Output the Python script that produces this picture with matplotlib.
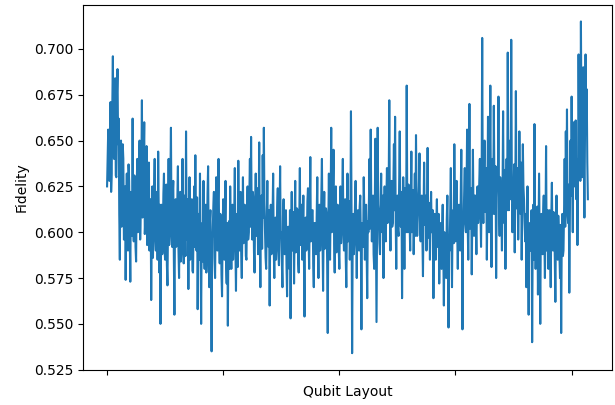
import numpy as np
import matplotlib
matplotlib.use("Agg")
import matplotlib.pyplot as plt

# fidelity per layout (in thousandths)
fidelity_milli = [
    625, 641, 656, 630, 628, 652, 671, 622, 632, 668, 696, 645, 640, 672, 684, 631, 630, 676, 689, 648,
    662, 610, 585, 638, 650, 603, 612, 648, 640, 596, 598, 625, 574, 609, 632, 593, 590, 637, 628, 601,
    573, 622, 615, 598, 662, 603, 595, 631, 628, 592, 584, 624, 640, 600, 605, 634, 650, 596, 612, 630,
    672, 608, 620, 641, 660, 599, 608, 626, 647, 593, 618, 628, 638, 590, 600, 618, 563, 603, 625, 586,
    605, 624, 640, 597, 590, 619, 622, 585, 644, 608, 578, 615, 550, 596, 615, 588, 598, 621, 632, 590,
    585, 612, 626, 582, 571, 608, 640, 593, 603, 627, 657, 601, 592, 620, 628, 586, 555, 604, 618, 592,
    598, 617, 636, 590, 575, 610, 622, 584, 590, 616, 640, 598, 583, 620, 612, 587, 655, 602, 596, 618,
    569, 607, 630, 585, 588, 612, 618, 579, 578, 604, 625, 592, 642, 600, 590, 619, 558, 597, 610, 585,
    632, 595, 550, 603, 605, 584, 628, 593, 580, 612, 615, 578, 596, 621, 636, 590, 570, 606, 612, 583,
    535, 597, 600, 614, 622, 586, 575, 609, 630, 592, 590, 618, 640, 596, 583, 610, 608, 577, 565, 601,
    618, 590, 585, 608, 628, 583, 572, 605, 549, 598, 606, 580, 625, 599, 580, 614, 615, 585, 595, 611,
    635, 592, 568, 605, 610, 581, 639, 602, 590, 617, 622, 588, 575, 603, 630, 594, 598, 615, 612, 587,
    585, 611, 625, 596, 600, 620, 640, 603, 652, 612, 596, 622, 618, 589, 578, 610, 632, 598, 605, 624,
    588, 609, 649, 597, 570, 613, 620, 591, 642, 608, 657, 615, 600, 586, 580, 607, 628, 594, 592, 612,
    560, 603, 615, 588, 590, 609, 632, 592, 575, 604, 608, 585, 596, 614, 624, 590, 582, 606, 636, 597,
    600, 583, 570, 609, 618, 593, 588, 610, 612, 582, 565, 601, 603, 589, 580, 612, 553, 598, 622, 590,
    598, 611, 572, 604, 628, 589, 590, 613, 612, 585, 578, 607, 635, 593, 600, 615, 585, 602, 620, 588,
    554, 606, 608, 590, 592, 617, 624, 598, 580, 609, 641, 595, 598, 612, 612, 583, 570, 605, 605, 592,
    588, 611, 630, 596, 575, 608, 615, 590, 600, 619, 640, 597, 568, 605, 622, 591, 596, 613, 610, 584,
    545, 603, 632, 593, 585, 614, 657, 600, 602, 622, 645, 594, 578, 607, 625, 589, 598, 615, 612, 590,
    580, 607, 625, 594, 605, 618, 640, 599, 590, 612, 618, 586, 570, 604, 632, 595, 600, 617, 585, 603,
    666, 612, 534, 598, 610, 588, 595, 616, 628, 600, 575, 609, 612, 592, 590, 614, 620, 597, 547, 605,
    605, 592, 630, 610, 585, 603, 615, 591, 564, 606, 600, 618, 640, 602, 656, 614, 595, 609, 620, 588,
    580, 611, 651, 600, 551, 607, 657, 615, 610, 594, 588, 613, 632, 601, 600, 620, 575, 605, 625, 598,
    595, 618, 635, 605, 612, 626, 672, 610, 590, 621, 628, 603, 605, 624, 648, 612, 663, 608, 580, 619,
    620, 601, 598, 627, 655, 611, 603, 622, 564, 606, 630, 615, 580, 624, 612, 600, 680, 613, 600, 626,
    625, 605, 590, 618, 644, 600, 605, 623, 588, 610, 632, 598, 653, 619, 598, 607, 615, 625, 643, 603,
    595, 617, 620, 599, 576, 611, 638, 604, 605, 620, 590, 608, 646, 597, 612, 616, 585, 606, 622, 600,
    600, 612, 564, 598, 610, 587, 585, 605, 618, 592, 595, 610, 572, 596, 605, 588, 580, 603, 615, 591,
    560, 600, 598, 585, 575, 607, 620, 593, 548, 598, 590, 611, 635, 597, 570, 608, 612, 594, 648, 606,
    595, 612, 628, 600, 580, 607, 615, 596, 590, 618, 645, 603, 547, 600, 605, 622, 635, 608, 600, 619,
    656, 605, 585, 614, 670, 602, 610, 624, 577, 609, 645, 611, 598, 620, 620, 603, 588, 615, 625, 605,
    610, 628, 640, 612, 592, 624, 706, 618, 605, 630, 650, 611, 620, 635, 585, 617, 663, 622, 600, 633,
    680, 614, 581, 626, 640, 610, 669, 628, 610, 636, 575, 619, 632, 625, 674, 613, 598, 630, 620, 608,
    590, 622, 666, 611, 605, 634, 580, 620, 640, 612, 698, 628, 612, 640, 650, 618, 705, 630, 600, 615,
    620, 637, 589, 621, 677, 613, 630, 635, 596, 619, 655, 627, 610, 638, 585, 616, 648, 625, 618, 605,
    595, 610, 570, 601, 625, 588, 555, 603, 605, 590, 590, 612, 540, 597, 615, 585, 659, 605, 580, 596,
    600, 614, 566, 599, 632, 587, 550, 604, 610, 592, 588, 611, 620, 596, 575, 603, 647, 590, 595, 612,
    580, 602, 612, 590, 570, 608, 627, 595, 590, 611, 605, 586, 562, 604, 620, 593, 585, 609, 600, 588,
    575, 604, 545, 597, 610, 587, 590, 612, 640, 603, 655, 618, 667, 609, 605, 626, 567, 612, 650, 620,
    674, 632, 600, 648, 660, 625, 640, 661, 618, 640, 593, 630, 697, 652, 650, 628, 715, 655, 630, 667,
    690, 642, 608, 650, 697, 660, 678, 638, 618,
]
tick_positions = [0, 200, 400, 600, 800]

fidelity = np.array(fidelity_milli) / 1000
layouts = np.arange(len(fidelity))

fig, ax = plt.subplots(figsize=(6.15, 4.05), dpi=100)
fig.subplots_adjust(left=0.135, right=0.995, bottom=0.087, top=0.988)

ax.plot(layouts, fidelity, color="#1f77b4", linewidth=1.5)
ax.set_xticks(tick_positions)
ax.set_xticklabels([""] * len(tick_positions))
ax.set_xlabel("Qubit Layout")
ax.set_ylabel("Fidelity")

plt.savefig("out.png")
plt.close()
